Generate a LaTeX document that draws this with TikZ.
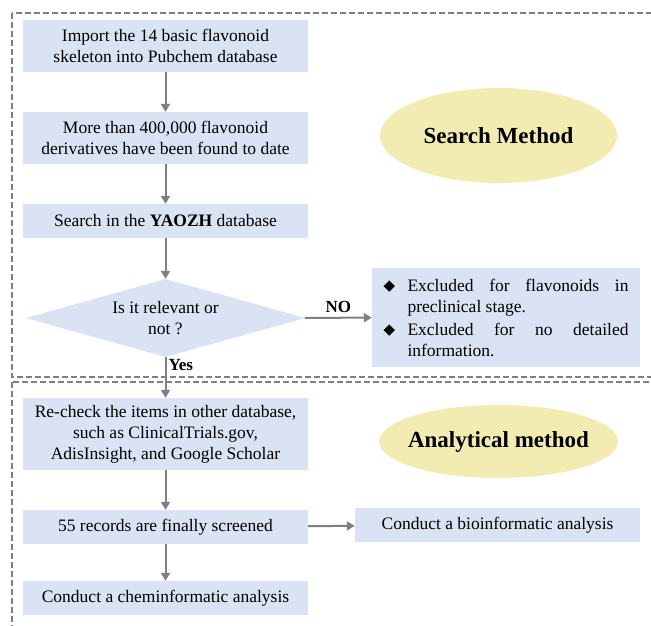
\documentclass[tikz,border=0pt]{standalone}
\usepackage{fontspec}
\setmainfont{Liberation Serif}
\newfontfamily\symfont{DejaVu Sans}
\usetikzlibrary{shapes.geometric,arrows.meta}
\definecolor{boxblue}{HTML}{DAE3F3}
\definecolor{tagyellow}{HTML}{F2ECB2}
\definecolor{linegray}{HTML}{7F7F7F}
\newcommand{\exitem}[1]{\hangindent=24pt\hangafter=1\noindent\makebox[24pt][l]{\symfont\fontsize{15}{20}\selectfont\raisebox{1pt}{◆}}#1\par}
\tikzset{
  box/.style={fill=boxblue, minimum width=285pt, align=center, inner sep=0pt,
    font=\fontsize{17.5}{21}\selectfont},
  decision/.style={diamond, fill=boxblue, minimum width=280pt, minimum height=78pt,
    aspect=3.6, inner sep=0pt, align=center, font=\fontsize{17.5}{21}\selectfont},
  tag/.style={ellipse, fill=tagyellow, inner xsep=-15pt, inner ysep=0pt,
    font=\fontsize{23}{27}\selectfont\bfseries},
  flow/.style={draw=linegray, line width=2pt, -{Triangle[width=9pt,length=8pt]}},
  frame/.style={draw=linegray, line width=1.8pt, dash pattern=on 6pt off 3pt}
}
\begin{document}
\begin{tikzpicture}[x=1pt,y=-1pt]
  \useasboundingbox (0,0) rectangle (651,625);
  \draw[frame] (12,13) rectangle (670,377);
  \draw[frame] (12,382) rectangle (670,650);

  \node[box, minimum height=52pt] (import) at (165.5,46) {Import the 14 basic flavonoid\\skeleton into Pubchem database};
  \node[box, minimum height=52pt] (found) at (165.5,138) {More than 400,000 flavonoid\\derivatives have been found to date};
  \node[box, minimum height=34pt] (yaozh) at (165.5,221) {Search in the \textbf{YAOZH} database};
  \node[decision] (relevant) at (165.5,318) {Is it relevant or\\not ?};
  \node[box, minimum height=72pt] (recheck) at (165.5,434) {Re-check the items in other database,\\such as ClinicalTrials.gov,\\AdisInsight, and Google Scholar};
  \node[box, minimum height=34pt] (records) at (165.5,527) {55 records are finally screened};
  \node[box, minimum height=34pt] (chem) at (165.5,598) {Conduct a cheminformatic analysis};
  \node[box, minimum height=34pt] (bio) at (497.5,525) {Conduct a bioinformatic analysis};
  \node[fill=boxblue, minimum width=268pt, minimum height=99pt, inner sep=0pt] (excluded) at (506,317.5) {%
    \parbox{245pt}{\fontsize{17.5}{21}\selectfont\setlength{\parskip}{2pt}%
      \exitem{Excluded for flavonoids in\linebreak preclinical stage.}%
      \exitem{Excluded for no detailed\linebreak information.}}};

  \node[tag, minimum width=237pt, minimum height=95pt] (search) at (498.5,135.5) {Search Method};
  \node[tag, minimum width=239pt, minimum height=73pt] (analytical) at (498.5,441.5) {Analytical method};

  \draw[flow] (import) -- (found);
  \draw[flow] (found) -- (yaozh);
  \draw[flow] (yaozh) -- (relevant);
  \draw[flow] (relevant) -- node[pos=0.2, right, inner sep=2pt, font=\fontsize{17}{18}\selectfont\bfseries] {Yes} (recheck);
  \draw[flow] (relevant) -- node[above, inner sep=4pt, font=\fontsize{17}{18}\selectfont\bfseries] {NO} (excluded);
  \draw[flow] (recheck) -- (records);
  \draw[flow] (records) -- (chem);
  \draw[flow] (records) -- (bio);
\end{tikzpicture}
\end{document}
